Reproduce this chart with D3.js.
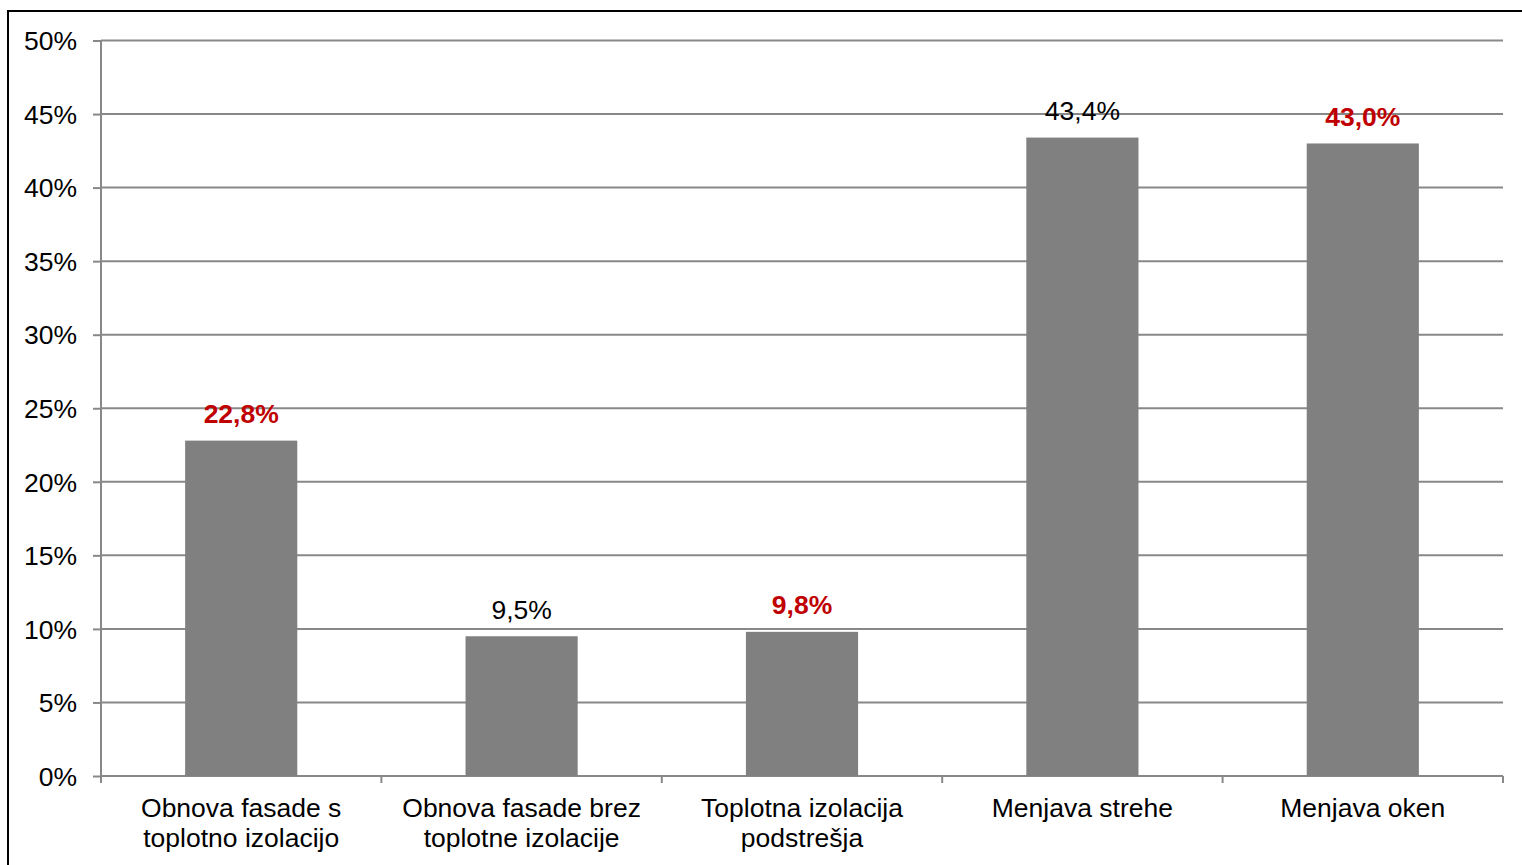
<!DOCTYPE html>
<html>
<head>
<meta charset="utf-8">
<script src="https://cdn.jsdelivr.net/npm/d3@7"></script>
<style>
  html, body { margin: 0; padding: 0; background: #fff; }
  svg { display: block; font-family: "Liberation Sans", Arial, sans-serif; }
</style>
</head>
<body>
<svg id="chart" width="1522" height="865"></svg>
<script>
const categories = [
  ["Obnova fasade s", "toplotno izolacijo"],
  ["Obnova fasade brez", "toplotne izolacije"],
  ["Toplotna izolacija", "podstrešja"],
  ["Menjava strehe"],
  ["Menjava oken"]
];
const values = [22.8, 9.5, 9.8, 43.4, 43.0];
const valueLabels = ["22,8%", "9,5%", "9,8%", "43,4%", "43,0%"];
const highlighted = [true, false, true, false, true];
const yTicks = [0, 5, 10, 15, 20, 25, 30, 35, 40, 45, 50];

const svg = d3.select("#chart");
const plotLeft = 101, plotRight = 1503, plotTop = 40.5, plotBottom = 776;
const fontSize = 26.5;

// frame
svg.append("rect").attr("x", 8).attr("y", 11).attr("width", 1530).attr("height", 900)
  .attr("fill", "none").attr("stroke", "#000").attr("stroke-width", 2);

const keys = categories.map((c, i) => i);
const x = d3.scaleBand().domain(keys).range([plotLeft, plotRight]).paddingInner(0.6).paddingOuter(0.3);
const y = d3.scaleLinear().domain([0, 50]).range([plotBottom, plotTop]);

// gridlines
svg.append("g").selectAll("line").data(yTicks).join("line")
  .attr("x1", plotLeft).attr("x2", plotRight)
  .attr("y1", d => y(d)).attr("y2", d => y(d))
  .attr("stroke", "#888").attr("stroke-width", 2);

// y ticks
const yAxis = d3.axisLeft(y).tickValues(yTicks).tickSize(8).tickFormat(d => d + "%");
const gy = svg.append("g").attr("transform", `translate(${plotLeft},0)`).call(yAxis);
gy.select(".domain").remove();
gy.selectAll(".tick line").attr("stroke", "#888").attr("stroke-width", 2);
gy.selectAll(".tick text").attr("font-size", fontSize).attr("fill", "#000")
  .attr("font-family", "Liberation Sans, Arial, sans-serif").attr("x", -24).attr("dy", "0.35em");

// y axis line
svg.append("line").attr("x1", plotLeft).attr("x2", plotLeft).attr("y1", y(50)).attr("y2", plotBottom + 7)
  .attr("stroke", "#888").attr("stroke-width", 2);

// category boundary ticks
const step = x.step();
const bounds = d3.range(categories.length + 1).map(i => plotLeft + i * step);
svg.append("g").selectAll("line").data(bounds).join("line")
  .attr("x1", d => d).attr("x2", d => d).attr("y1", plotBottom).attr("y2", plotBottom + 7)
  .attr("stroke", "#888").attr("stroke-width", 2);

// bars
svg.append("g").selectAll("rect").data(values).join("rect")
  .attr("x", (d, i) => x(i)).attr("width", x.bandwidth())
  .attr("y", d => y(d)).attr("height", d => plotBottom - y(d))
  .attr("fill", "#808080");

// value labels
svg.append("g").selectAll("text").data(values).join("text")
  .attr("x", (d, i) => x(i) + x.bandwidth() / 2)
  .attr("y", d => y(d) - 17.5)
  .attr("text-anchor", "middle")
  .attr("font-size", fontSize)
  .attr("font-weight", (d, i) => highlighted[i] ? "bold" : "normal")
  .attr("fill", (d, i) => highlighted[i] ? "#C00000" : "#000")
  .text((d, i) => valueLabels[i]);

// category labels
const cl = svg.append("g").selectAll("text").data(categories).join("text")
  .attr("text-anchor", "middle").attr("font-size", fontSize).attr("fill", "#000");
cl.each(function(lines, i) {
  const t = d3.select(this);
  lines.forEach((line, j) => {
    t.append("tspan").attr("x", x(i) + x.bandwidth() / 2).attr("y", 817 + j * 30).text(line);
  });
});
</script>
</body>
</html>
